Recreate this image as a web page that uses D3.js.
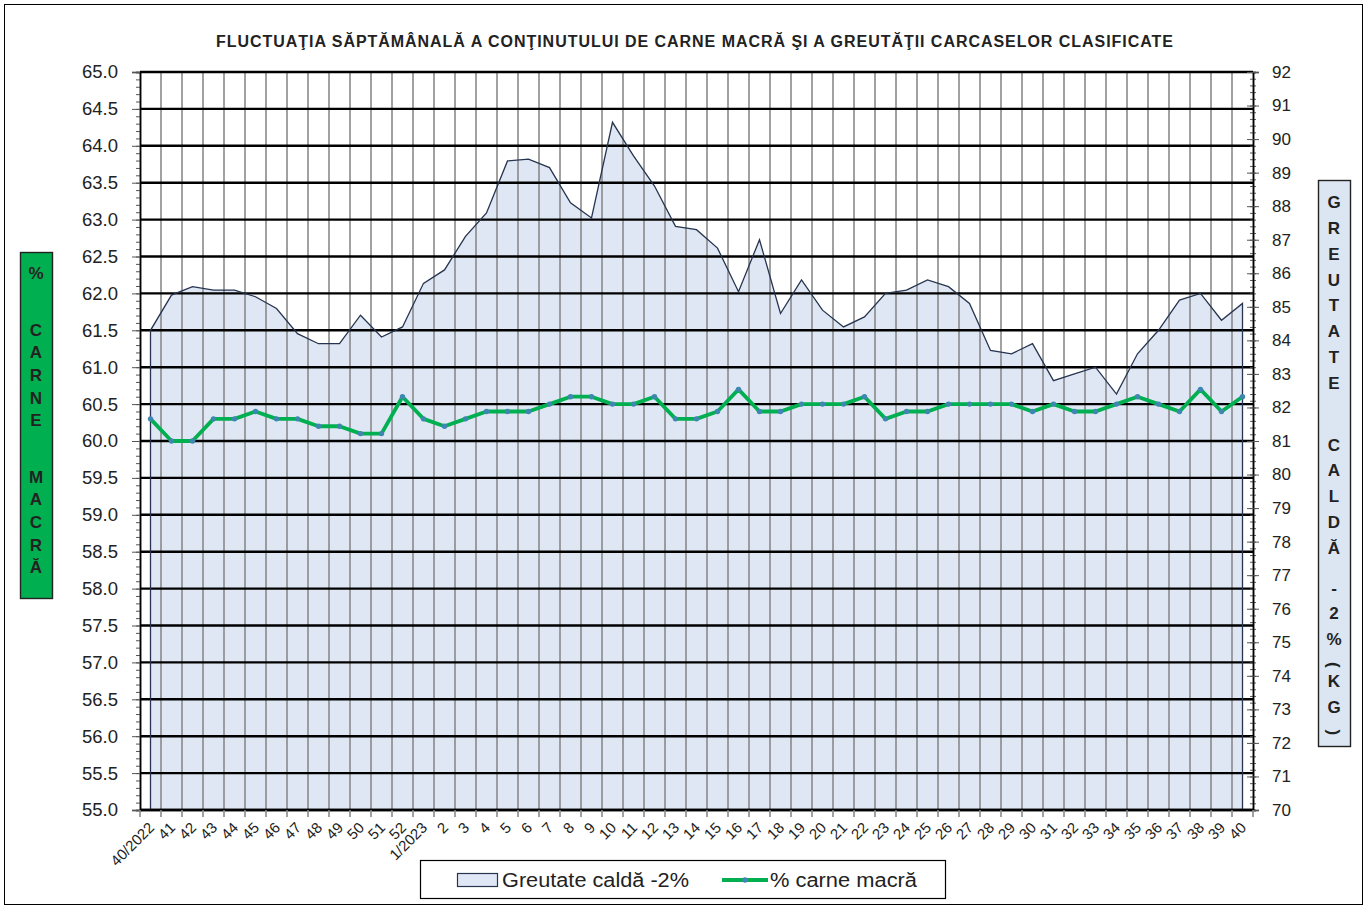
<!DOCTYPE html>
<html>
<head>
<meta charset="utf-8">
<script src="https://cdn.jsdelivr.net/npm/d3@7"></script>
<style>
  body { margin: 0; background: #fff; }
  text { font-family: "Liberation Sans", Arial, sans-serif; fill: #222; }
</style>
</head>
<body>
<script>
// week labels on the category axis
var weeks = ['40/2022', '41', '42', '43', '44', '45', '46', '47', '48', '49', '50', '51', '52',
  '1/2023', '2', '3', '4', '5', '6', '7', '8', '9', '10', '11', '12', '13', '14', '15', '16',
  '17', '18', '19', '20', '21', '22', '23', '24', '25', '26', '27', '28', '29', '30', '31',
  '32', '33', '34', '35', '36', '37', '38', '39', '40'];

// Greutate caldă -2% (kg), right axis
var greutate = [84.3, 85.35, 85.6, 85.5, 85.5, 85.3, 84.95, 84.2, 83.9, 83.9, 84.75, 84.1, 84.4,
  85.7, 86.1, 87.1, 87.8, 89.35, 89.4, 89.15, 88.1, 87.65, 90.5, 89.5, 88.6, 87.4, 87.3, 86.75,
  85.45, 87.0, 84.8, 85.8, 84.9, 84.4, 84.7, 85.4, 85.5, 85.8, 85.6, 85.1, 83.7, 83.6, 83.9,
  82.8, 83.0, 83.2, 82.4, 83.6, 84.3, 85.2, 85.4, 84.6, 85.1];

// % carne macră, left axis
var carne = [60.3, 60.0, 60.0, 60.3, 60.3, 60.4, 60.3, 60.3, 60.2, 60.2, 60.1, 60.1, 60.6,
  60.3, 60.2, 60.3, 60.4, 60.4, 60.4, 60.5, 60.6, 60.6, 60.5, 60.5, 60.6, 60.3, 60.3, 60.4,
  60.7, 60.4, 60.4, 60.5, 60.5, 60.5, 60.6, 60.3, 60.4, 60.4, 60.5, 60.5, 60.5, 60.5, 60.4,
  60.5, 60.4, 60.4, 60.5, 60.6, 60.5, 60.4, 60.7, 60.4, 60.6];

var leftTicks = d3.range(55, 65.001, 0.5);
var rightTicks = d3.range(70, 92.001, 1);

var title = 'FLUCTUAŢIA SĂPTĂMÂNALĂ A CONŢINUTULUI DE CARNE MACRĂ ŞI A GREUTĂŢII CARCASELOR CLASIFICATE';
var leftTitle = ['%', ' ', 'C', 'A', 'R', 'N', 'E', ' ', 'M', 'A', 'C', 'R', 'Ă'];
var rightTitle = ['G', 'R', 'E', 'U', 'T', 'A', 'T', 'E', ' ', 'C', 'A', 'L', 'D', 'Ă', '_',
  '-', '2', '%', '(', 'K', 'G', ')'];

var W = 1367, H = 908;
var pL = 140, pR = 1253, pT = 72, pB = 810;

var svg = d3.select('body').append('svg').attr('width', W).attr('height', H);

// outer border
svg.append('rect').attr('x', 4.5).attr('y', 4.5).attr('width', 1358).attr('height', 900)
  .attr('fill', '#fff').attr('stroke', '#000').attr('stroke-width', 1);

var x = d3.scaleBand().domain(weeks).range([pL, pR]).padding(0);
var cx = function(d, i) { return x(weeks[i]) + x.bandwidth() / 2; };
var yL = d3.scaleLinear().domain([55, 65]).range([pB, pT]);
var yR = d3.scaleLinear().domain([70, 92]).range([pB, pT]);

// area fill (outline drawn after the gridlines)
var area = d3.area().x(cx).y0(pB).y1(function(d) { return yR(d); });
svg.append('path').datum(greutate).attr('d', area).attr('fill', '#dfe7f5');

// vertical gridlines at category boundaries
var bounds = d3.range(1, weeks.length).map(function(k) { return pL + k * x.bandwidth(); });
svg.append('g').selectAll('line').data(bounds).enter().append('line')
  .attr('x1', function(d) { return d; }).attr('x2', function(d) { return d; })
  .attr('y1', pT).attr('y2', pB)
  .attr('stroke', '#8a8a8a').attr('stroke-width', 1.6);

// horizontal gridlines
svg.append('g').selectAll('line').data(leftTicks).enter().append('line')
  .attr('x1', pL).attr('x2', pR)
  .attr('y1', function(d) { return yL(d); }).attr('y2', function(d) { return yL(d); })
  .attr('stroke', '#000').attr('stroke-width', 2.4);

// area outline, closed down to the axis at both ends
var outline = [[cx(null, 0), pB]].concat(greutate.map(function(d, i) { return [cx(d, i), yR(d)]; }))
  .concat([[cx(null, weeks.length - 1), pB]]);
svg.append('path').datum(outline).attr('d', d3.line())
  .attr('fill', 'none').attr('stroke', '#26344f').attr('stroke-width', 1.3);

// left axis
var gL = svg.append('g').attr('transform', 'translate(' + pL + ',0)');
gL.call(d3.axisLeft(yL).tickValues(d3.range(55, 65.001, 0.1)).tickSize(4).tickFormat(''));
gL.append('g').call(d3.axisLeft(yL).tickValues(leftTicks).tickSize(8).tickPadding(14).tickFormat(d3.format('.1f')));
gL.selectAll('.domain').attr('stroke', '#000').attr('stroke-width', 1.5);
gL.selectAll('line').attr('stroke', '#555');
gL.selectAll('text').style('font-size', '18.5px').attr('fill', '#222');

// right axis
var gR = svg.append('g').attr('transform', 'translate(' + pR + ',0)');
gR.call(d3.axisRight(yR).tickValues(d3.range(70, 92.001, 0.2)).tickSize(3).tickFormat(''));
gR.append('g').call(d3.axisRight(yR).tickValues(rightTicks).tickSize(6).tickPadding(13).tickFormat(d3.format('d')));
gR.selectAll('.tick line').attr('x1', function() { return -d3.select(this).attr('x2'); });
gR.selectAll('.domain').attr('stroke', '#000').attr('stroke-width', 1.5);
gR.selectAll('line').attr('stroke', '#555');
gR.selectAll('text').style('font-size', '17px').attr('fill', '#222');

// bottom axis line and ticks
svg.append('line').attr('x1', pL).attr('x2', pR).attr('y1', pB).attr('y2', pB)
  .attr('stroke', '#000').attr('stroke-width', 2.4);
svg.append('g').selectAll('line').data(d3.range(0, weeks.length + 1)).enter().append('line')
  .attr('x1', function(k) { return pL + k * x.bandwidth(); })
  .attr('x2', function(k) { return pL + k * x.bandwidth(); })
  .attr('y1', pB).attr('y2', pB + 7)
  .attr('stroke', '#8a8a8a').attr('stroke-width', 1.6);

// rotated week labels
svg.append('g').selectAll('text').data(weeks).enter().append('text')
  .attr('transform', function(d, i) { return 'translate(' + (cx(d, i) - 3) + ',' + (pB + 11) + ') rotate(-45)'; })
  .attr('dy', '0.72em').attr('text-anchor', 'end')
  .style('font-size', '15px')
  .text(function(d) { return d; });

// % carne macră line with markers
var line = d3.line().x(cx).y(function(d) { return yL(d); });
svg.append('path').datum(carne).attr('d', line)
  .attr('fill', 'none').attr('stroke', '#00b050').attr('stroke-width', 3.8).attr('stroke-linejoin', 'round');
svg.append('g').selectAll('circle').data(carne).enter().append('circle')
  .attr('cx', cx).attr('cy', function(d) { return yL(d); }).attr('r', 2.7)
  .attr('fill', '#3f86b0');

// title
svg.append('text').attr('x', 216).attr('y', 47)
  .attr('textLength', 957).attr('lengthAdjust', 'spacing')
  .style('font-size', '16px').style('font-weight', 'bold')
  .text(title);

// stacked vertical titles
function stacked(chars, boxX, boxY, boxW, boxH, fill, startY, step, gap, small) {
  svg.append('rect').attr('x', boxX + 0.5).attr('y', boxY + 0.5).attr('width', boxW).attr('height', boxH)
    .attr('fill', fill).attr('stroke', '#222').attr('stroke-width', 1.4);
  var yy = startY;
  chars.forEach(function(c) {
    if (c === ' ') { yy += gap; return; }
    if (c === '_') { yy += small; return; }
    var t = svg.append('text').attr('x', boxX + boxW / 2).attr('y', yy)
      .attr('text-anchor', 'middle').attr('dy', '0.36em')
      .style('font-size', '17px').style('font-weight', 'bold').text(c);
    if (c === '(' || c === ')') {
      t.attr('transform', 'rotate(90,' + (boxX + boxW / 2) + ',' + yy + ')');
      yy += 16;
    } else {
      yy += step;
    }
  });
}
stacked(leftTitle, 20, 252, 32, 346, '#00b050', 273, 22.6, 34, 0);
stacked(rightTitle, 1318, 180, 32, 566, '#dce6f2', 202, 25.8, 36, 14);

// legend
var lg = svg.append('g');
lg.append('rect').attr('x', 420.5).attr('y', 860.5).attr('width', 525).attr('height', 38)
  .attr('fill', '#fff').attr('stroke', '#000').attr('stroke-width', 1.2);
lg.append('rect').attr('x', 457.5).attr('y', 873.5).attr('width', 40).attr('height', 13)
  .attr('fill', '#dfe7f5').attr('stroke', '#26344f').attr('stroke-width', 1.2);
lg.append('text').attr('x', 502).attr('y', 887).attr('textLength', 187).attr('lengthAdjust', 'spacingAndGlyphs')
  .style('font-size', '20px').text('Greutate caldă -2%');
lg.append('line').attr('x1', 722).attr('x2', 768).attr('y1', 880).attr('y2', 880)
  .attr('stroke', '#00b050').attr('stroke-width', 3.8);
lg.append('circle').attr('cx', 745).attr('cy', 880).attr('r', 2.7).attr('fill', '#3f86b0');
lg.append('text').attr('x', 770).attr('y', 887).attr('textLength', 147).attr('lengthAdjust', 'spacingAndGlyphs')
  .style('font-size', '20px').text('% carne macră');
</script>
</body>
</html>
